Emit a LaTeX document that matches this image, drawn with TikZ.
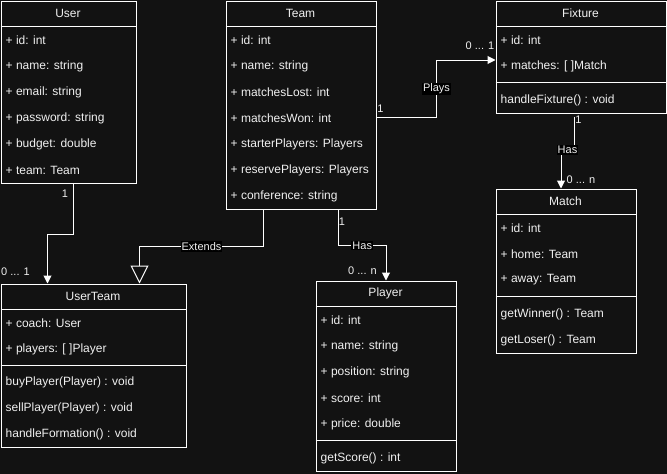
\documentclass[tikz,border=0pt]{standalone}
\usepackage{fontspec}
\setmainfont{Liberation Sans}
\usetikzlibrary{arrows.meta,calc}
\definecolor{bg}{HTML}{121212}
\definecolor{ink}{HTML}{F0F0F0}

% Class frame: #1 name, #2 left, #3 top, #4 width, #5 height, #6 title
\newcommand\classframe[6]{%
  \node[classbox, minimum width=#4pt, minimum height=#5pt] (#1) at (#2,#3) {};
  \node[title] (#1-title) at ({#2+#4/2},{#3+13}) {#6};
  \draw[sep] (#2,{#3+26}) -- ({#2+#4},{#3+26});
}

\begin{document}
\begin{tikzpicture}[x=1pt,y=-1pt,
  classbox/.style={draw=white, fill=bg, anchor=north west, inner sep=0pt, line width=1pt},
  title/.style={text=ink, font=\fontsize{12}{14}\selectfont, inner sep=0pt},
  member/.style={text=ink, font=\fontsize{12}{14}\selectfont, anchor=west, inner sep=0pt},
  sep/.style={draw=white, line width=1pt},
  assoc/.style={draw=white, line width=1pt, -{Triangle[length=8pt,width=8pt]}},
  extends/.style={draw=white, line width=1pt, -{Triangle[open,length=18pt,width=18pt,fill=bg]}},
  mult/.style={text=ink, font=\fontsize{11}{13}\selectfont, inner sep=0pt},
  tag/.style={text=ink, fill=black, font=\fontsize{11}{13}\selectfont, inner sep=1pt},
]
\fill[bg] (0,0) rectangle (667,474);
\useasboundingbox (0,0) rectangle (667,474);

% ---- User
\classframe{user}{0.5}{0.5}{135}{182}{User}
\foreach \t [count=\i from 0] in {+ id: int, + name: string, + email: string, + password: string, + budget: double, + team: Team}
  \node[member] (user-a\i) at (5.5,{40+26*\i}) {\t};

% ---- Team
\classframe{team}{225.5}{0.5}{150}{208}{Team}
\foreach \t [count=\i from 0] in {+ id: int, + name: string, + matchesLost: int, + matchesWon: int, + starterPlayers: Players, + reservePlayers: Players, + conference: string}
  \node[member] (team-a\i) at (230.5,{40+26*\i}) {\t};

% ---- Fixture
\classframe{fixture}{495.5}{0.5}{170}{112}{Fixture}
\foreach \t [count=\i from 0] in {+ id: int, {+ matches: [ ]Match}}
  \node[member] (fixture-a\i) at (500.5,{40+26*\i}) {\t};
\draw[sep] (495.5,82.5) -- (665.5,82.5);
\node[member] (fixture-m0) at (500.5,100) {handleFixture() : void};

% ---- Match
\classframe{match}{495.5}{188.5}{140}{164}{Match}
\foreach \t [count=\i from 0] in {+ id: int, + home: Team, + away: Team}
  \node[member] (match-a\i) at (500.5,{228+26*\i}) {\t};
\draw[sep] (495.5,296.5) -- (635.5,296.5);
\foreach \t [count=\i from 0] in {getWinner() : Team, getLoser() : Team}
  \node[member] (match-m\i) at (500.5,{314+26*\i}) {\t};

% ---- UserTeam
\classframe{userteam}{0.5}{283.5}{185}{163}{UserTeam}
\foreach \t [count=\i from 0] in {+ coach: User, {+ players: [ ]Player}}
  \node[member] (userteam-a\i) at (5.5,{323+26*\i}) {\t};
\draw[sep] (0.5,365.5) -- (185.5,365.5);
\foreach \t [count=\i from 0] in {buyPlayer(Player) : void, sellPlayer(Player) : void, handleFormation() : void}
  \node[member] (userteam-m\i) at (5.5,{382.5+26*\i}) {\t};

% ---- Player
\classframe{player}{315.5}{280.5}{140}{190}{Player}
\foreach \t [count=\i from 0] in {+ id: int, + name: string, + position: string, + score: int, + price: double}
  \node[member] (player-a\i) at (320.5,{320+26*\i}) {\t};
\draw[sep] (315.5,440.5) -- (455.5,440.5);
\node[member] (player-m0) at (320.5,458) {getScore() : int};

% ---- Connectors
\draw[assoc] ([xshift=5pt]user.south) -- ++(0,51) -| ([xshift=-46pt]userteam.north);
\node[mult] (m-user) at (65,194) {1};
\node[mult] (m-userteam) at (15.5,271.5) {0 ... 1};

\draw[extends] ([xshift=-37.5pt]team.south) -- ++(0,37)
  -| node[tag, pos=0.25] (l-extends) {Extends} ([xshift=46pt]userteam.north);

\draw[assoc] ([xshift=37.5pt]team.south) -- ++(0,36)
  -| node[tag, pos=0.25] (l-has1) {Has} (player.north);
\node[mult] (m-team1) at (342,222) {1};
\node[mult] (m-player) at (362.5,271) {0 ... n};

\draw[assoc] ([yshift=-12.5pt]team.east) -- ++(60,0)
  |- node[tag, pos=0.25] (l-plays) {Plays} ([yshift=-3pt]fixture.west);
\node[mult] (m-team2) at (380.5,109) {1};
\node[mult] (m-fixture) at (480,46) {0 ... 1};

\draw[assoc, shorten <=3pt] ([xshift=-7pt]fixture.south) -- ++(0,36.5)
  -| node[tag, pos=0.25] (l-has2) {Has} ([xshift=-5pt]match.north);
\node[mult] (m-fixture2) at (578.5,120) {1};
\node[mult] (m-match) at (581,180) {0 ... n};
\end{tikzpicture}
\end{document}
